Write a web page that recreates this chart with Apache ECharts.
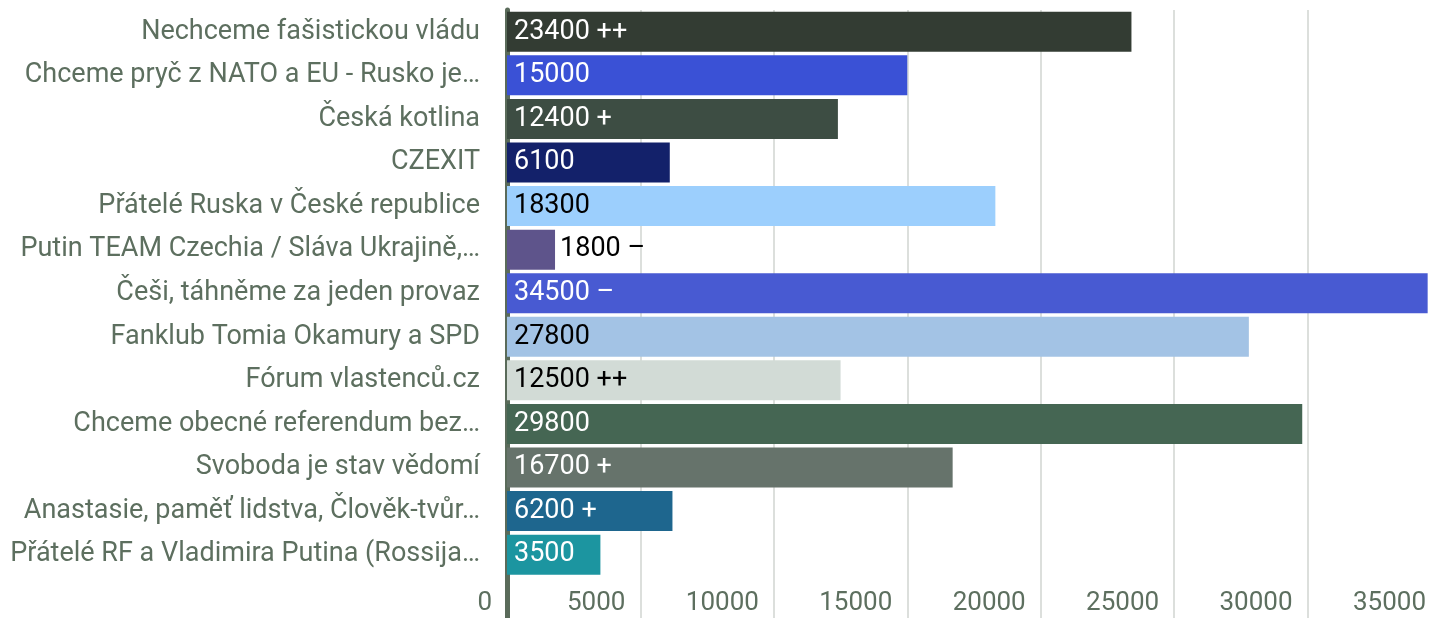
<!DOCTYPE html>
<html>
<head>
<meta charset="utf-8">
<script src="https://cdn.jsdelivr.net/npm/echarts@6/dist/echarts.min.js"></script>
<style>
  html, body { margin: 0; padding: 0; background: #fff; }
  #chart { width: 1432px; height: 618px; }
</style>
</head>
<body>
<div id="chart"></div>
<script>
// skupiny, shora dolů
const categories = [
  'Nechceme fašistickou vládu',
  'Chceme pryč z NATO a EU - Rusko je…',
  'Česká kotlina',
  'CZEXIT',
  'Přátelé Ruska v České republice',
  'Putin TEAM Czechia / Sláva Ukrajině,…',
  'Češi, táhněme za jeden provaz',
  'Fanklub Tomia Okamury a SPD',
  'Fórum vlastenců.cz',
  'Chceme obecné referendum bez…',
  'Svoboda je stav vědomí',
  'Anastasie, paměť lidstva, Člověk-tvůr…',
  'Přátelé RF a Vladimira Putina (Rossija…'
]
const members = [23400, 15000, 12400, 6100, 18300, 1800, 34500, 27800, 12500, 29800, 16700, 6200, 3500]
const trend = ['++', '', '+', '', '', '–', '–', '', '++', '', '+', '+', '']
const barColors = [
  '#333c33', '#3a51d6', '#3d4d43', '#13216a', '#9ccffd', '#5e548b', '#485ad2',
  '#a3c3e5', '#d2dbd6', '#456653', '#66736b', '#1e668e', '#1c95a0'
]
const labelColors = ['#fff', '#fff', '#fff', '#fff', '#000', '#000', '#fff', '#000', '#000', '#fff', '#fff', '#fff', '#fff']
const xTicks = [0, 5000, 10000, 15000, 20000, 25000, 30000, 35000]

const textColor = '#5d6f5f'

const chart = echarts.init(document.getElementById('chart'))

const seriesData = members.map((v, i) => ({
  value: v,
  itemStyle: { color: barColors[i] },
  label: {
    color: labelColors[i],
    // krátký sloupec -> popisek vedle
    position: v < 3000 ? 'right' : 'insideLeft',
    distance: v < 3000 ? 5 : 7
  }
}))

chart.setOption({
  animation: false,
  grid: { left: 507, right: -9, top: 10, bottom: -2, outerBoundsMode: 'none' },
  xAxis: {
    type: 'value',
    min: 0,
    max: 35000,
    interval: 5000,
    axisLine: { show: false },
    axisTick: { show: false },
    splitLine: { show: true, lineStyle: { color: '#dcdfdc', width: 2 } },
    axisLabel: {
      inside: true,
      margin: 4,
      align: 'right',
      padding: [0, 15, 0, 0],
      color: textColor,
      fontFamily: 'Roboto',
      fontSize: 26,
      formatter: (v) => xTicks.includes(v) ? String(v) : ''
    }
  },
  yAxis: {
    type: 'category',
    inverse: true,
    data: categories,
    // volné místo dole pro popisky osy x
    max: categories.length,
    axisTick: { show: false },
    axisLine: { show: true, lineStyle: { color: '#5a6b5a', width: 5 } },
    axisLabel: {
      margin: 27,
      color: textColor,
      fontFamily: 'Roboto',
      fontSize: 27
    }
  },
  series: [{
    type: 'bar',
    barWidth: 40,
    data: seriesData,
    label: {
      show: true,
      fontFamily: 'Roboto',
      fontSize: 27,
      formatter: (p) => trend[p.dataIndex] ? p.value + ' ' + trend[p.dataIndex] : String(p.value)
    }
  }]
})
</script>
</body>
</html>
